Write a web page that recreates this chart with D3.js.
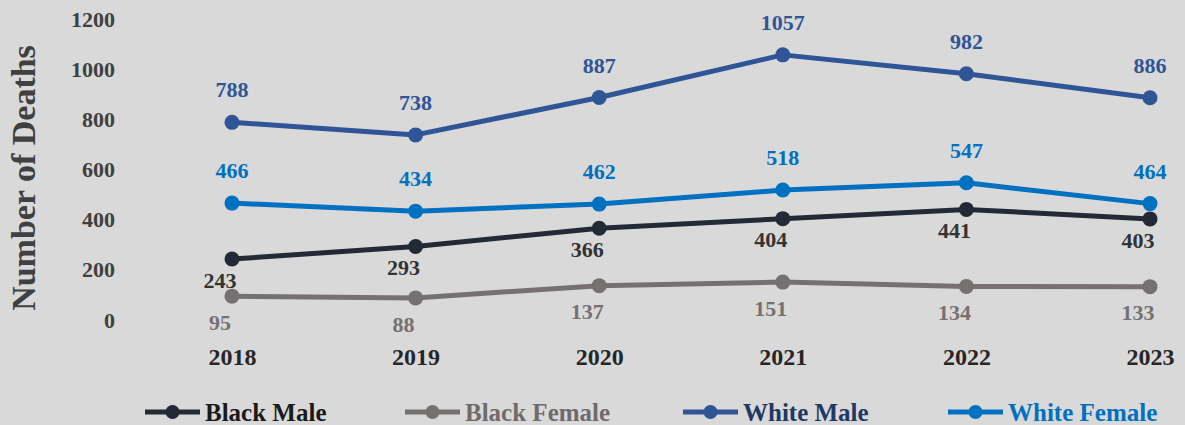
<!DOCTYPE html>
<html>
<head>
<meta charset="utf-8">
<script src="https://cdn.jsdelivr.net/npm/d3@7"></script>
<style>
  html, body { margin: 0; padding: 0; background: #d9d9d9; }
  svg { display: block; }
  text { font-family: "Liberation Serif", "DejaVu Serif", serif; font-weight: bold; }
</style>
</head>
<body>
<svg id="chart" width="1185" height="425"></svg>
<script>
// Deaths by race and sex, 2018–2023
const years = ["2018", "2019", "2020", "2021", "2022", "2023"];
const blackMale = [243, 293, 366, 404, 441, 403];
const blackFemale = [95, 88, 137, 151, 134, 133];
const whiteMale = [788, 738, 887, 1057, 982, 886];
const whiteFemale = [466, 434, 462, 518, 547, 464];
const yTicks = [0, 200, 400, 600, 800, 1000, 1200];

const series = [
  { name: "Black Male", values: blackMale, color: "#222a35", labelColor: "#333333", legendColor: "#1a1a1a", pos: "below", dx: -12, gap: 13 },
  { name: "Black Female", values: blackFemale, color: "#767171", labelColor: "#767171", legendColor: "#6f6b6b", pos: "below", dx: -12, gap: 18 },
  { name: "White Male", values: whiteMale, color: "#2f5597", labelColor: "#2f5597", legendColor: "#203864", pos: "above", dx: 0, gap: 25 },
  { name: "White Female", values: whiteFemale, color: "#0070c0", labelColor: "#0070c0", legendColor: "#0070c0", pos: "above", dx: 0, gap: 25 }
];

const svg = d3.select("#chart");

const x = d3.scalePoint().domain(years).range([232, 1150]);
const y = d3.scaleLinear().domain([0, 1200]).range([320, 19]);

// y axis tick labels (no axis line, no gridlines)
const yAxis = svg.append("g")
  .attr("transform", "translate(115,0)")
  .call(d3.axisLeft(y).tickValues(yTicks).tickSize(0).tickPadding(0).tickFormat(d3.format("d")));
yAxis.select(".domain").remove();
yAxis.selectAll("text")
  .attr("fill", "#404040")
  .style("font-size", "22px")
  .style("font-family", "'Liberation Serif', serif")
  .style("font-weight", "bold");

// x axis category labels
const xAxis = svg.append("g")
  .attr("transform", "translate(0,348)")
  .call(d3.axisBottom(x).tickSize(0).tickPadding(0));
xAxis.select(".domain").remove();
xAxis.selectAll("text")
  .attr("fill", "#262626")
  .attr("dy", "0.71em")
  .style("font-size", "24px")
  .style("font-family", "'Liberation Serif', serif")
  .style("font-weight", "bold");

// y axis title
svg.append("text")
  .attr("transform", "translate(35,178) rotate(-90)")
  .attr("text-anchor", "middle")
  .attr("fill", "#404040")
  .style("font-size", "34px")
  .text("Number of Deaths");

const line = d3.line()
  .x((d, i) => x(years[i]))
  .y(d => y(d));

// lines, markers and value labels
series.forEach(s => {
  const g = svg.append("g");
  g.append("path")
    .datum(s.values)
    .attr("fill", "none")
    .attr("stroke", s.color)
    .attr("stroke-width", 5)
    .attr("stroke-linejoin", "round")
    .attr("d", line);
  g.selectAll("circle")
    .data(s.values)
    .join("circle")
    .attr("cx", (d, i) => x(years[i]))
    .attr("cy", d => y(d))
    .attr("r", 7.5)
    .attr("fill", s.color);
  g.selectAll("text")
    .data(s.values)
    .join("text")
    .attr("x", (d, i) => x(years[i]) + s.dx)
    .attr("y", d => y(d) + (s.pos === "above" ? -s.gap : s.gap))
    .attr("dy", s.pos === "above" ? "0" : "0.71em")
    .attr("text-anchor", "middle")
    .attr("fill", s.labelColor)
    .style("font-size", "22px")
    .text(d => d);
});

// legend
const legendX = [145, 405, 683, 948];
const legend = svg.append("g").attr("transform", "translate(0,412)");
series.forEach((s, i) => {
  const lg = legend.append("g").attr("transform", `translate(${legendX[i]},0)`);
  lg.append("line")
    .attr("x1", 0).attr("x2", 55)
    .attr("stroke", s.color)
    .attr("stroke-width", 5);
  lg.append("circle")
    .attr("cx", 27.5).attr("r", 7)
    .attr("fill", s.color);
  lg.append("text")
    .attr("x", 60)
    .attr("dy", "0.35em")
    .attr("fill", s.legendColor)
    .style("font-size", "25px")
    .text(s.name);
});
</script>
</body>
</html>
